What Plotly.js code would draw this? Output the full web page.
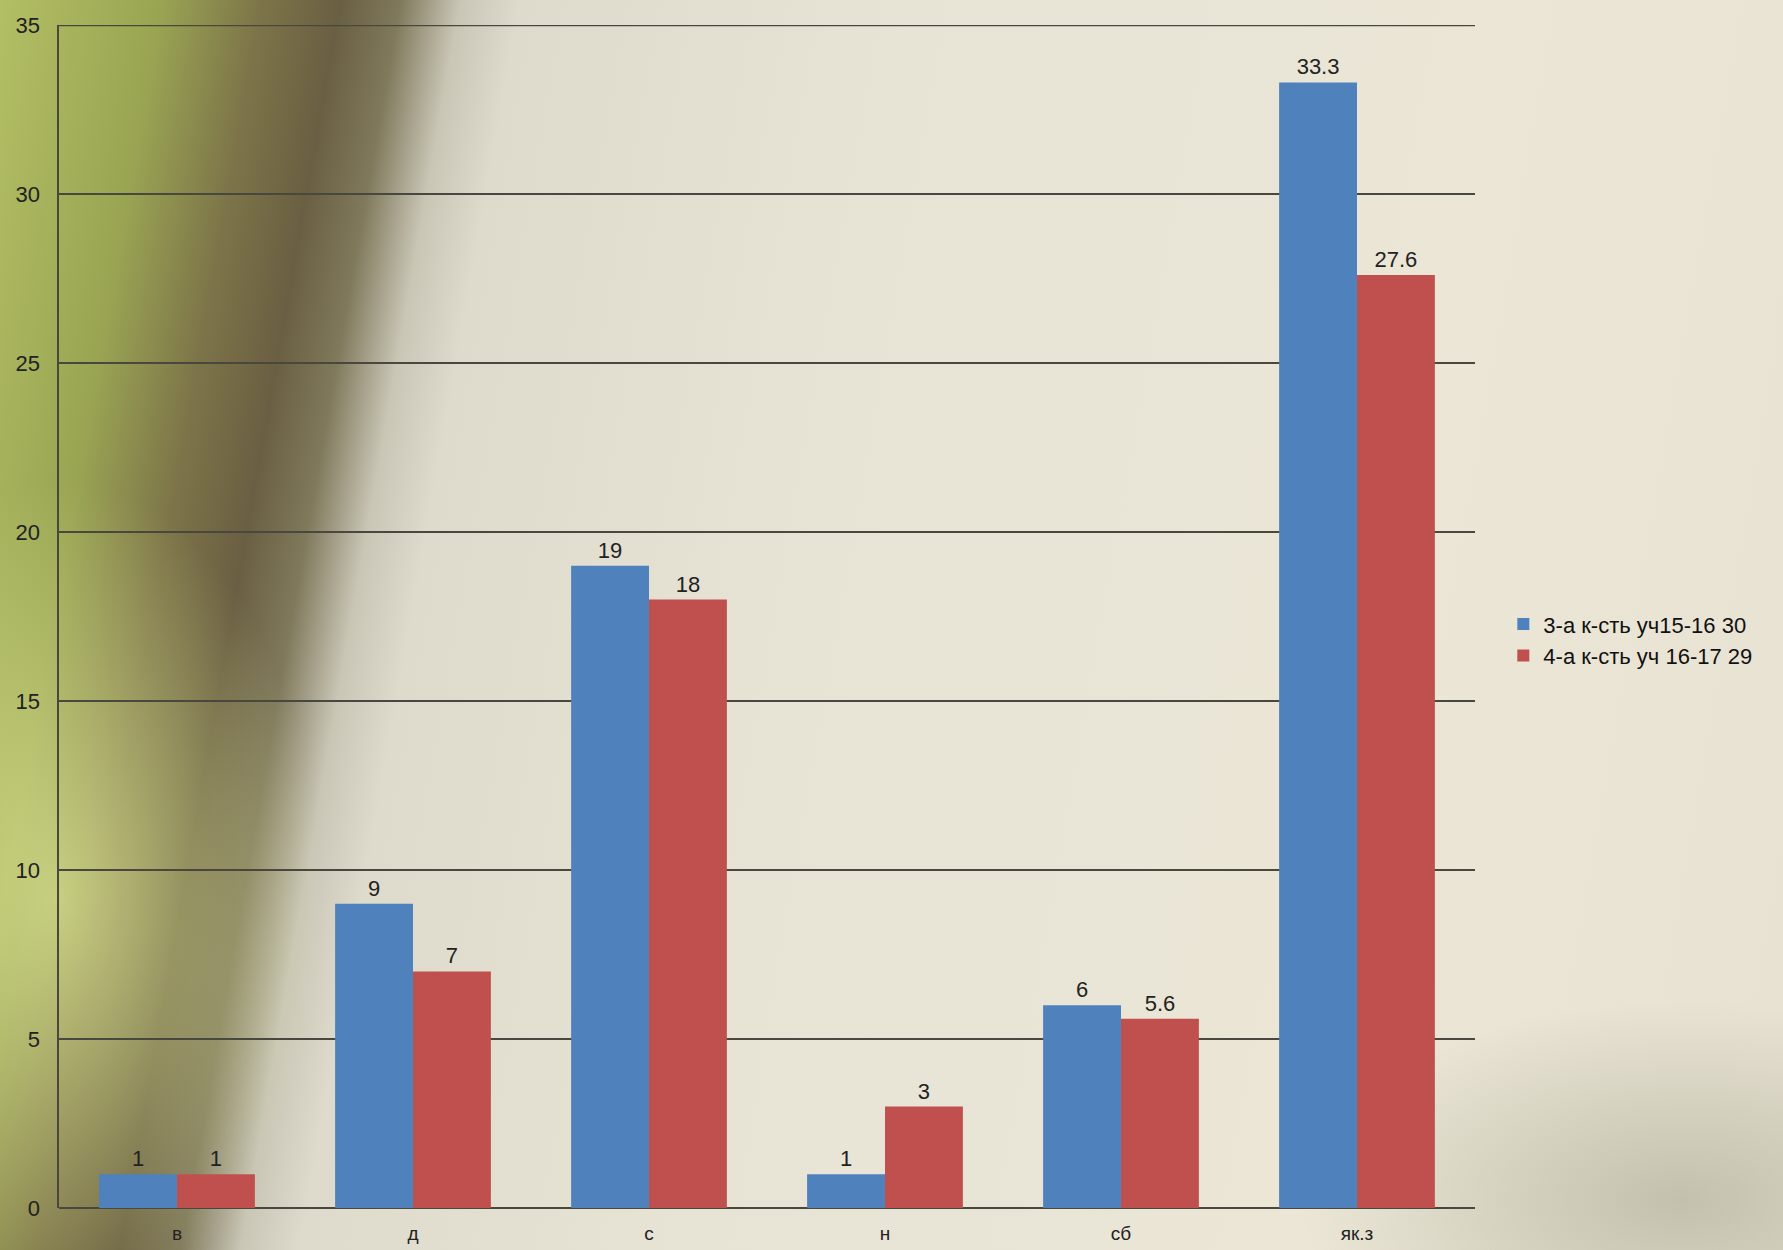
<!DOCTYPE html>
<html>
<head>
<meta charset="utf-8">
<script src="https://cdn.plot.ly/plotly-3.0.1.min.js"></script>
<style>
html,body{margin:0;padding:0;}
body{
  width:1783px;height:1250px;overflow:hidden;
  background:
    radial-gradient(ellipse 260px 420px at 60px 900px, rgba(225,235,150,0.7), rgba(225,235,150,0) 100%),
    radial-gradient(ellipse 380px 200px at 1680px 1200px, rgba(125,130,100,0.35), rgba(125,130,100,0) 100%),
    linear-gradient(100deg, #b3bf64 0%, #9aa553 8%, #7d7549 13%, #6a5f42 17%, #80795c 20%, #c9c6b6 23%, #dedbcd 26%, #e7e4d6 45%, #ebe6d6 75%, #e8e2d3 100%);
}
#chart{width:1783px;height:1250px;}
</style>
</head>
<body>
<div id="chart"></div>
<script>
const categories = ["в", "д", "с", "н", "сб", "як.з"];
const series1Name = "3-а к-сть уч15-16 30";
const series2Name = "4-а к-сть уч 16-17 29";
const series1Values = [1, 9, 19, 1, 6, 33.3];
const series2Values = [1, 7, 18, 3, 5.6, 27.6];
const yTickValues = [0, 5, 10, 15, 20, 25, 30, 35];

const font = "Liberation Sans, Arial, sans-serif";
const gridColor = "#48483f";
const traces = [
  {
    type: "bar", name: series1Name, x: categories, y: series1Values,
    marker: {color: "#4f81bd"},
    text: series1Values.map(String), textposition: "outside",
    textfont: {family: font, size: 22, color: "#222"},
    cliponaxis: false, constraintext: "none"
  },
  {
    type: "bar", name: series2Name, x: categories, y: series2Values,
    marker: {color: "#c0504d"},
    text: series2Values.map(String), textposition: "outside",
    textfont: {family: font, size: 22, color: "#222"},
    cliponaxis: false, constraintext: "none"
  }
];
const layout = {
  width: 1783, height: 1250,
  margin: {l: 59, r: 308, t: 25, b: 42},
  paper_bgcolor: "rgba(0,0,0,0)",
  plot_bgcolor: "rgba(0,0,0,0)",
  font: {family: font, color: "#222"},
  barmode: "group", bargap: 0.34, bargroupgap: 0,
  showlegend: true,
  legend: {x: 1.02, xanchor: "left", y: 0.48, yanchor: "middle",
           bgcolor: "rgba(0,0,0,0)", font: {size: 22, color: "#111"},
           tracegroupgap: 0, itemwidth: 30},
  xaxis: {
    showgrid: false, showline: false, zeroline: false,
    ticks: "", tickfont: {size: 19, color: "#222"}, ticklabelstandoff: 12,
    fixedrange: true
  },
  yaxis: {
    range: [0, 35], tickvals: yTickValues, ticktext: yTickValues.map(String),
    showgrid: true, gridcolor: gridColor, gridwidth: 2.5,
    zeroline: true, zerolinecolor: gridColor, zerolinewidth: 2.5,
    showline: true, linecolor: gridColor, linewidth: 2.5,
    ticks: "", tickfont: {size: 22, color: "#222"}, ticklabelstandoff: 12,
    fixedrange: true
  },
  shapes: [
    {type: "line", xref: "paper", yref: "y", x0: 0, x1: 1, y0: 35, y1: 35,
     line: {color: gridColor, width: 2.5}, layer: "below"}
  ]
};
Plotly.newPlot("chart", traces, layout, {displayModeBar: false, staticPlot: true});
</script>
</body>
</html>
